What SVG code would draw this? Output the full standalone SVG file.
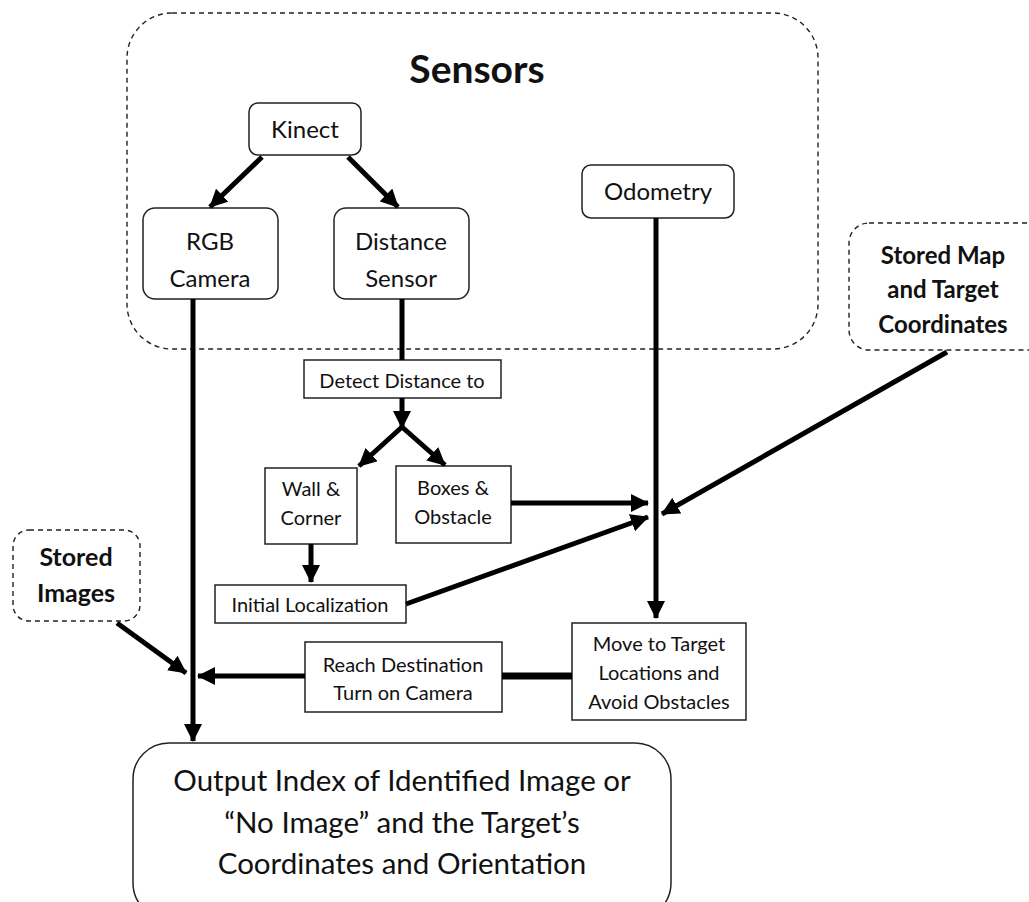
<svg xmlns="http://www.w3.org/2000/svg" width="1029" height="902" viewBox="0 0 1029 902">
<style>
  .bx{fill:#fff;stroke:#222;stroke-width:1.5}
  .dash{fill:#fff;stroke:#222;stroke-width:1.4;stroke-dasharray:5 4}
  .t{font-family:Lato,"Liberation Sans",sans-serif;fill:#111;text-anchor:middle}
  .s{font-size:20px}
  .m{font-size:24px}
  .b{font-weight:bold}
  .ln{stroke:#000;stroke-width:5;fill:none}
</style>
<defs>
  <marker id="ah" markerUnits="userSpaceOnUse" markerWidth="18" markerHeight="18" viewBox="0 0 18 18" refX="17" refY="9" orient="auto">
    <path d="M0,0 L18,9 L0,18 z" fill="#000"/>
  </marker>
</defs>
<rect width="1029" height="902" fill="#fff"/>

<g id="sensors">
  <rect class="dash" x="127" y="13" width="691" height="336" rx="45"/>
  <text class="t b" x="477" y="83" font-size="39">Sensors</text>
</g>
<g id="kinect">
  <rect class="bx" x="249" y="103" width="112" height="52" rx="9"/>
  <text class="t m" x="305" y="138">Kinect</text>
</g>
<g id="rgb">
  <rect class="bx" x="143" y="208" width="135" height="91" rx="12"/>
  <text class="t m" x="210" y="250">RGB</text>
  <text class="t m" x="210" y="287">Camera</text>
</g>
<g id="distance">
  <rect class="bx" x="334" y="208" width="135" height="91" rx="12"/>
  <text class="t m" x="401" y="250">Distance</text>
  <text class="t m" x="401" y="287">Sensor</text>
</g>
<g id="odometry">
  <rect class="bx" x="582" y="165" width="152" height="53" rx="9"/>
  <text class="t m" x="658" y="200">Odometry</text>
</g>
<g id="storedmap">
  <rect class="dash" x="849" y="223" width="200" height="127" rx="20"/>
  <text class="t b" x="943" y="264" font-size="24">Stored Map</text>
  <text class="t b" x="943" y="298" font-size="24">and Target</text>
  <text class="t b" x="943" y="333" font-size="24">Coordinates</text>
</g>
<g id="detect">
  <rect class="bx" x="304" y="360" width="197" height="38"/>
  <text class="t s" x="402" y="388">Detect Distance to</text>
</g>
<g id="wall">
  <rect class="bx" x="265" y="468" width="92" height="76"/>
  <text class="t s" x="311" y="496">Wall &amp;</text>
  <text class="t s" x="311" y="525">Corner</text>
</g>
<g id="boxes">
  <rect class="bx" x="396" y="466" width="115" height="77"/>
  <text class="t s" x="453" y="495">Boxes &amp;</text>
  <text class="t s" x="453" y="524">Obstacle</text>
</g>
<g id="initial">
  <rect class="bx" x="215" y="585" width="191" height="38"/>
  <text class="t s" x="310" y="612">Initial Localization</text>
</g>
<g id="storedimages">
  <rect class="dash" x="13" y="530" width="127" height="91" rx="16"/>
  <text class="t b" x="76" y="566" font-size="25">Stored</text>
  <text class="t b" x="76" y="602" font-size="25">Images</text>
</g>
<g id="move">
  <rect class="bx" x="572" y="623" width="174" height="97"/>
  <text class="t s" x="659" y="651">Move to Target</text>
  <text class="t s" x="659" y="680">Locations and</text>
  <text class="t s" x="659" y="709">Avoid Obstacles</text>
</g>
<g id="reach">
  <rect class="bx" x="305" y="642" width="197" height="70"/>
  <text class="t s" x="403" y="672">Reach Destination</text>
  <text class="t s" x="403" y="700">Turn on Camera</text>
</g>
<g id="output">
  <rect class="bx" x="133" y="743" width="538" height="176" rx="36"/>
  <text class="t" x="402" y="791" font-size="29.5">Output Index of Identified Image or</text>
  <text class="t" x="402" y="833" font-size="29.5">“No Image” and the Target’s</text>
  <text class="t" x="402" y="874" font-size="29.5">Coordinates and Orientation</text>
</g>

<g id="connectors">
  <line class="ln" x1="262" y1="157" x2="210" y2="207" marker-end="url(#ah)"/>
  <line class="ln" x1="348" y1="157" x2="398" y2="207" marker-end="url(#ah)"/>
  <line class="ln" x1="193" y1="299" x2="193" y2="741" marker-end="url(#ah)"/>
  <line class="ln" x1="402" y1="299" x2="402" y2="360"/>
  <line class="ln" x1="402" y1="398" x2="402" y2="428" marker-end="url(#ah)"/>
  <line class="ln" x1="402" y1="427" x2="359" y2="466" marker-end="url(#ah)"/>
  <line class="ln" x1="402" y1="427" x2="445" y2="465" marker-end="url(#ah)"/>
  <line class="ln" x1="311" y1="544" x2="311" y2="582" marker-end="url(#ah)"/>
  <line class="ln" x1="511" y1="503" x2="648" y2="503" marker-end="url(#ah)"/>
  <line class="ln" x1="406" y1="604" x2="648" y2="517" marker-end="url(#ah)"/>
  <line class="ln" x1="656" y1="218" x2="656" y2="618" marker-end="url(#ah)"/>
  <line class="ln" x1="947" y1="352" x2="662" y2="514" marker-end="url(#ah)"/>
  <line class="ln" x1="572" y1="676" x2="502" y2="676" style="stroke-width:7"/>
  <line class="ln" x1="305" y1="676" x2="198" y2="676" marker-end="url(#ah)"/>
  <line class="ln" x1="117" y1="623" x2="186" y2="673" marker-end="url(#ah)"/>
</g>
</svg>
